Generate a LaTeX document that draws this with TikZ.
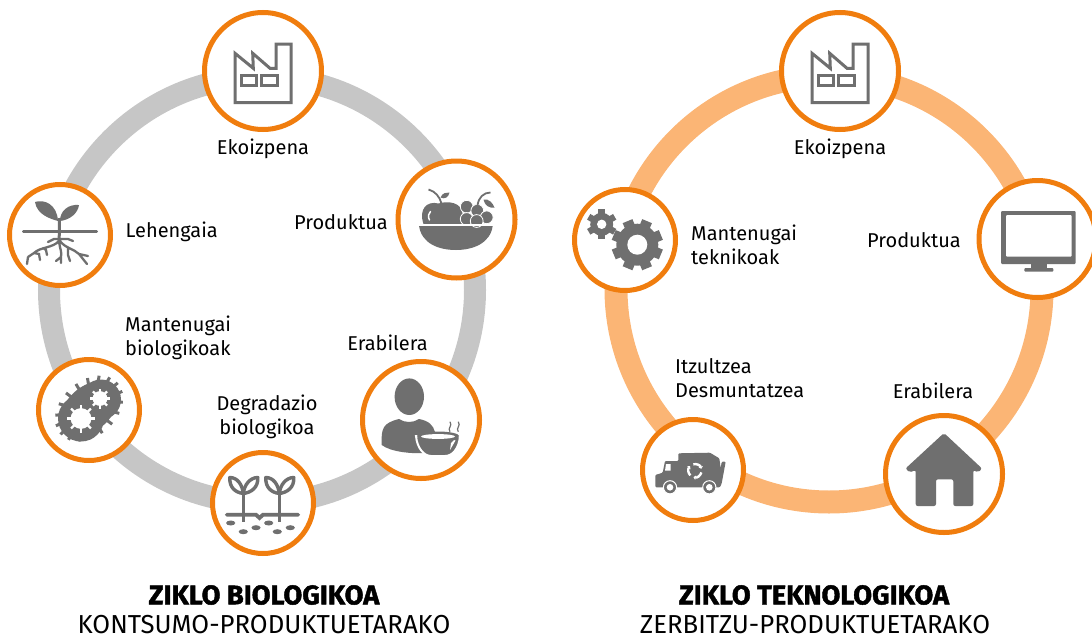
\documentclass[tikz,border=0pt]{standalone}
\usepackage{fontspec}
\setmainfont{Fira Sans}
\newfontfamily\titlefont[FakeStretch=1.01,FakeBold=1.6]{Fira Sans Bold}
\newfontfamily\subfont[FakeStretch=0.99]{Fira Sans}
\usetikzlibrary{arrows.meta,calc}
\definecolor{hubring}{HTML}{F07D0E}
\definecolor{greyring}{HTML}{C6C6C6}
\definecolor{peachring}{HTML}{FBB575}
\definecolor{icongrey}{HTML}{6F6F6F}
\tikzset{
  bighub/.style={circle,draw=hubring,line width=5pt,fill=white,minimum size=117pt,inner sep=0pt},
  smallhub/.style={circle,draw=hubring,line width=5pt,fill=white,minimum size=101pt,inner sep=0pt},
  lbl/.style={font=\fontsize{20}{24}\selectfont,inner sep=0pt,align=left},
  lblc/.style={lbl,align=center},
  titlelbl/.style={font=\titlefont\fontsize{27}{28}\selectfont,inner sep=0pt},
  sublbl/.style={font=\subfont\fontsize{26}{28}\selectfont,inner sep=0pt},
  factoryicon/.pic={
    \draw[icongrey,line width=3pt] (-28,-17.7) -- (-9.7,-2.7) -- (-10.3,-17.7) -- (7,-2.7) -- (13,-2.7) -- (13,-27) -- (28,-27) -- (28,31.7) -- (-28,31.7) -- cycle;
    \draw[icongrey,line width=3pt] (-22,4) rectangle (-6.3,14);
    \draw[icongrey,line width=3pt] (-1.3,4) rectangle (14.3,14);
  },
  monitoricon/.pic={
    \fill[icongrey,rounded corners=1pt] (-36.5,-28) rectangle (38.2,25);
    \fill[white,rounded corners=1pt] (-31.5,-24) rectangle (34.2,17.7);
    \fill[icongrey] (-6.5,25) rectangle (9.2,29.5);
    \fill[icongrey,rounded corners=1pt] (-13.2,29) rectangle (15.8,32.7);
  },
  houseicon/.pic={
    \fill[icongrey,rounded corners=2pt] (-28.3,32) -- (-28.3,-4) -- (-34.5,-1.5) -- (-38.5,-5.5) -- (0,-41) -- (38,-5.5) -- (34,-1.5) -- (29.3,-4) -- (29.3,32) -- (9.3,32) -- (9.3,5.3) -- (-8,5.3) -- (-8,32) -- cycle;
  },
  personicon/.pic={
    \fill[icongrey] (-11.7,-23.3) ellipse (14.7 and 18.3);
    \fill[icongrey] (-39.3,25) .. controls (-40,8) and (-38,3) .. (-22,-1) .. controls (-16,3) and (-8,3) .. (-2,-1) .. controls (8,1) and (12,5) .. (14,12) -- (8,33) .. controls (-10,34) and (-30,32) .. (-39.3,25) -- cycle;
    \draw[white,line width=2pt,fill=icongrey] (-5,16) .. controls (-4,28) and (3,36) .. (10,36) -- (24,36) .. controls (32,36) and (38,28) .. (39,16) -- cycle;
    \fill[icongrey] (17,16) ellipse (21 and 4.5);
    \fill[white] (17,16.5) ellipse (17 and 2.4);
    \fill[white] (30,23) -- (33,20) -- (34.5,20.5) -- (29,30) -- cycle;
    \foreach \sx in {29,37.3}
      \draw[icongrey,line width=1.2pt] (\sx,11.7) .. controls (\sx-3,8) and (\sx+3,6) .. (\sx,1.7);
  },
  fruiticon/.pic={
    \fill[icongrey] (-37.5,6.2) -- (36.2,6.2) .. controls (34,24) and (16,30.5) .. (-0.5,30.5) .. controls (-18,30.5) and (-35,24) .. cycle;
    \fill[icongrey] (-33,4.5) .. controls (-38,-10) and (-30,-19) .. (-18,-16) .. controls (-8,-19) and (5,-17) .. (6,-6) -- (6,4.5) -- cycle;
    \draw[white,line width=1.5pt,line cap=round] (-27,0.5) .. controls (-29,-3) and (-28,-6) .. (-26,-8);
    \draw[icongrey,line width=1.8pt] (-28,-30) .. controls (-21,-28) and (-17,-23) .. (-15,-16);
    \fill[icongrey] (-16,-22) .. controls (-14,-27) and (-10,-27) .. (-7,-27) .. controls (-8,-22) and (-12,-20) .. cycle;
    \foreach \gx/\gy in {10.2/-12.8,20.8/-8.8,30.2/-2.2,10.2/-0.5,20.2/1.5}
      \draw[white,line width=0.8pt,fill=icongrey] (\gx,\gy) circle (6.4);
    \draw[icongrey,line width=1.8pt] (21,-14) .. controls (22,-22) and (27,-27) .. (34,-27);
    \fill[icongrey] (27,-20) .. controls (32,-21) and (36,-17) .. (38,-12) .. controls (33,-11) and (28,-14) .. cycle;
    \fill[white] (-37.5,4.9) rectangle (37,6.2);
  },
  bacteriaicon/.pic={
    \fill[icongrey] (-8,8.5) circle (23);
    \fill[icongrey] (12,-10.5) circle (20);
    \begin{scope}[rotate=42]
      \fill[icongrey] (1,-1) ellipse (33 and 22);
      \foreach \a in {0,20,...,340}
        \draw[icongrey,line width=3pt] ({1+28*cos(\a)},{-1+18*sin(\a)}) -- ({1+38.5*cos(\a)},{-1+27.5*sin(\a)});
    \end{scope}
    \foreach \sx/\sy/\sr in {-8/8.5/14,11/-11.5/10}{
      \fill[white] (\sx,\sy) circle ({\sr*0.74});
      \foreach \a in {0,45,...,315}
        \draw[white,line width=2.4pt] (\sx,\sy) -- ++(\a:\sr);
    }
  },
  rooticon/.pic={
    \draw[icongrey,line width=2.6pt,line cap=round] (-36.7,-3.3) -- (36.7,-3.3);
    \draw[icongrey,line width=3pt] (-0.7,-17) .. controls (-0.3,-10) and (-1,0) .. (-0.7,9);
    \fill[icongrey] (-2,-14) .. controls (-9,-16) and (-23,-20) .. (-25,-33) .. controls (-16,-36) and (-3,-31) .. (-2,-14) -- cycle;
    \fill[icongrey] (0,-14) .. controls (0,-24) and (8,-31) .. (19,-30) .. controls (18,-22) and (10,-15) .. (0,-14) -- cycle;
    \draw[icongrey,line width=2.3pt,line cap=round] (-1,6) .. controls (-7,13) and (-20,12) .. (-26,18) -- (-32,22) (-32,22) -- (-33,29) (-26,18) -- (-21,19) -- (-20,25)
      (-1,4) -- (-6,4) -- (-12,7) (-17,13) -- (-14,15) -- (-13,20);
    \draw[icongrey,line width=2.3pt,line cap=round] (-0.7,8) .. controls (0,14) and (2,17) .. (1,22) -- (-4,26) (1,22) -- (1,28);
    \draw[icongrey,line width=2.3pt,line cap=round] (0,6) .. controls (5,13) and (14,14) .. (19,19) -- (27,29) (19,19) -- (28,21) (8,12) -- (8,20) -- (10,26) (0,4) -- (8,4) -- (13,6);
  },
  sproutleaves/.pic={
    \draw[icongrey,line width=3.4pt,fill=white,line join=round] (0,0) .. controls (-8,-1) and (-14,-6) .. (-13.5,-16) .. controls (-6,-16) and (-1,-9) .. cycle;
    \draw[icongrey,line width=3.4pt,fill=white,line join=round] (0,0) .. controls (8,-1) and (15,-6) .. (14.5,-16) .. controls (7,-16) and (1,-9) .. cycle;
    \draw[icongrey,line width=3.6pt] (0,0) -- (0,28);
  },
  sprouticon/.pic={
    \draw[icongrey,line width=3.8pt,line cap=round] (-36.3,11.7) -- (-7,11.7) -- (-3.5,15) -- (0,11.7) -- (35.3,11.7);
    \pic at (-19.7,-9.5) {sproutleaves};
    \pic at (16.3,-9.5) {sproutleaves};
    \foreach \dx/\dy in {-32.3/20,-19.7/28.7,-7/24.7,5.7/20,14.3/28.7,27.3/24.7}
      \fill[icongrey] (\dx,\dy) ellipse (4.6 and 2.5);
  },
  gearicon/.pic={
    \fill[icongrey] (12.3,4.7) circle (21);
    \foreach \a in {0,45,...,315}
      \draw[icongrey,line width=10.5pt] (12.3,4.7) -- ++(\a+22.5:25.5);
    \fill[white] (12.3,4.7) circle (10);
    \fill[icongrey] (-23.3,-15.7) circle (11.5);
    \foreach \a in {0,60,...,300}
      \draw[icongrey,line width=6.5pt] (-23.3,-15.7) -- ++(\a+30:15);
    \fill[white] (-23.3,-15.7) circle (4.7);
  },
  truckicon/.pic={
    \fill[icongrey,rounded corners=1pt] (-37.7,17.3) -- (-37.7,5) -- (-30.3,2.7) -- (-28,-9) -- (-14.7,-9) -- (-14.7,-16.7) -- (17,-17.3) -- (26.3,-11.7) -- (27.7,-1.7) -- (28.7,-8.3) -- (32.7,-8.3) -- (28.7,13.3) -- (27,17.3) -- cycle;
    \fill[white] (-27,-6) -- (-22.3,-6) -- (-22.3,0.7) -- (-28,0.7) -- cycle;
    \foreach \wx in {-23,16.3}{
      \draw[white,line width=1pt,fill=icongrey] (\wx,17.3) circle (6.6);
      \fill[white] (\wx,17.3) circle (3.3);
    }
    \foreach \a in {15,135,255}
      \draw[white,line width=2.4pt,-{Triangle[length=2.2pt,width=4.4pt]}] ($(2,0.7)+(\a:6.6)$) arc[start angle=\a,end angle=\a+88,radius=6.6];
  }
}
\begin{document}
\begin{tikzpicture}[x=1pt,y=-1pt]
  \useasboundingbox (0,0) rectangle (1092,637);
  \coordinate (bioring) at (262,290);
  \coordinate (tekring) at (829,289);
  \draw[greyring,line width=22pt] (bioring) circle (213);
  \draw[peachring,line width=23pt] (tekring) circle (213);

  % biological loop
  \node[bighub] (ekoizpenaA) at (263,71) {};
  \node[bighub] (produktuaA) at (456.5,219.5) {};
  \node[bighub] (erabileraA) at (421,420) {};
  \node[smallhub] (degradazioA) at (263,503) {};
  \node[smallhub] (mantenugaiA) at (89,410) {};
  \node[smallhub] (lehengaiaA) at (60,235) {};
  \pic at (ekoizpenaA) {factoryicon};
  \pic at (produktuaA) {fruiticon};
  \pic at (erabileraA) {personicon};
  \pic at (degradazioA) {sprouticon};
  \pic at (mantenugaiA) {bacteriaicon};
  \pic at (lehengaiaA) {rooticon};
  \node[lblc] (lbekoizpenaA) at (263,149) {Ekoizpena};
  \node[lblc] (lbproduktuaA) at (341,222) {Produktua};
  \node[lblc] (lberabileraA) at (387.5,343) {Erabilera};
  \node[lblc] (lbdegradazioA) at (267,417) {Degradazio\\biologikoa};
  \node[lbl,anchor=west] (lbmantenugaiA) at (125,338) {Mantenugai\\biologikoak};
  \node[lbl,anchor=west] (lblehengaiaA) at (125.5,232) {Lehengaia};
  \node[titlelbl] (titleA) at (264,595) {ZIKLO BIOLOGIKOA};
  \node[sublbl] (subA) at (264,624.5) {KONTSUMO-PRODUKTUETARAKO};

  % technological loop
  \node[bighub] (ekoizpenaB) at (840,71) {};
  \node[bighub] (produktuaB) at (1037.5,239) {};
  \node[bighub] (erabileraB) at (944,474) {};
  \node[smallhub] (itzultzeaB) at (693,470) {};
  \node[smallhub] (mantenugaiB) at (625,240) {};
  \pic at (ekoizpenaB) {factoryicon};
  \pic at (produktuaB) {monitoricon};
  \pic at (erabileraB) {houseicon};
  \pic at (itzultzeaB) {truckicon};
  \pic at (mantenugaiB) {gearicon};
  \node[lblc] (lbekoizpenaB) at (840,149) {Ekoizpena};
  \node[lblc] (lbproduktuaB) at (914,240) {Produktua};
  \node[lblc] (lberabileraB) at (933,391) {Erabilera};
  \node[lbl,anchor=west] (lbitzultzeaB) at (675,378) {Itzultzea\\Desmuntatzea};
  \node[lbl,anchor=west] (lbmantenugaiB) at (691,245) {Mantenugai\\teknikoak};
  \node[titlelbl] (titleB) at (814,595) {ZIKLO TEKNOLOGIKOA};
  \node[sublbl] (subB) at (815,624.5) {ZERBITZU-PRODUKTUETARAKO};
\end{tikzpicture}
\end{document}
